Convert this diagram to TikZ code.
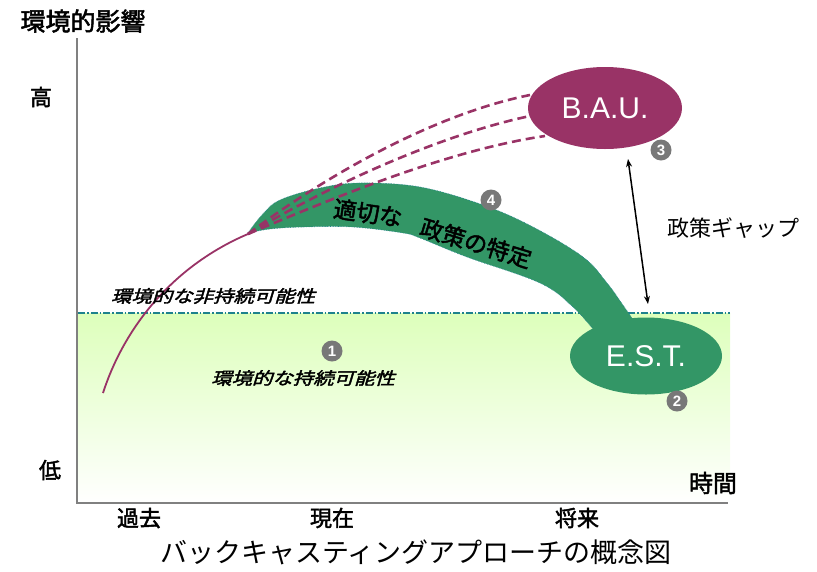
\documentclass[tikz,border=0pt]{standalone}
\usepackage{fontspec}
\usepackage{graphicx}
\setmainfont{Liberation Sans}
\newfontfamily\jp[AutoFakeBold=2,AutoFakeSlant=0.25]{Noto Sans CJK JP}
\usetikzlibrary{shapes.geometric,arrows.meta}
\definecolor{baucol}{RGB}{153,51,102}
\definecolor{estcol}{RGB}{51,150,102}
\definecolor{bgreen}{RGB}{221,255,187}
\definecolor{tealline}{RGB}{30,130,140}
\definecolor{axisgray}{RGB}{128,128,128}
\definecolor{markgray}{RGB}{120,120,120}
\begin{document}
\begin{tikzpicture}[x=1pt,y=-1pt,
  axislabel/.style={inner sep=0, font=\jp\bfseries\fontsize{22}{22}\selectfont},
  zonelabel/.style={inner sep=0, font=\jp\bfseries\itshape\fontsize{17}{17}\selectfont},
  marker/.style={circle, fill=markgray, text=white, inner sep=0, minimum size=21,
    font=\bfseries\fontsize{15}{15}\selectfont},
  scen/.style={ellipse, inner sep=0, text=white, font=\fontsize{30}{30}\selectfont},
  bandtext/.style={inner sep=0, font=\jp\bfseries\fontsize{23}{23}\selectfont},
  baudash/.style={draw=baucol, line width=2.6pt, dash pattern=on 9pt off 5pt},
  axisline/.style={draw=axisgray, line width=1.2pt}]
\useasboundingbox (0,0) rectangle (817,571);
% sustainable zone
\shade[top color=bgreen, middle color=bgreen!55!white, bottom color=white] (78,313) rectangle (730,503);
\draw[tealline, line width=1.3pt, dash pattern=on 7pt off 2pt on 1.5pt off 2pt] (78,313) -- (730,313);
% axes
\draw[axisline] (77,38) -- (77,503) -- (728,503);
% policy band
\fill[estcol, draw=tealline, line width=0.6pt, densely dotted]
  plot[smooth, tension=0.6] coordinates {(248,233) (262,215) (280,200) (320,188) (360,183) (420,187) (483,205) (533,227) (583,257) (607,283) (625,308) (640,330)}
  -- plot[smooth, tension=0.6] coordinates {(598,335) (573,307) (540,283) (467,257) (420,238) (403,233) (353,227) (303,227) (270,229) (248,233)} -- cycle;
% scenario ellipses
\node[scen, fill=baucol, minimum width=154, minimum height=82] (bau) at (605,108) {B.A.U.};
\node[scen, fill=estcol, minimum width=152, minimum height=77] (est) at (646,356) {E.S.T.};
% trajectories
\coordinate (past) at (103,393);
\coordinate (split) at (248,234);
\coordinate (bauA) at (530,95);
\coordinate (bauB) at (530,116);
\coordinate (bauC) at (545,136);
\draw[baucol, line width=1.8pt] (past) .. controls (125,325) and (175,265) .. (split);
\draw[baudash] (split) .. controls (320,180) and (430,115) .. (bauA);
\draw[baudash] (split) .. controls (330,185) and (440,135) .. (bauB);
\draw[baudash] (split) .. controls (340,195) and (450,150) .. (bauC);
% policy gap arrow
\coordinate (gapTop) at (628,159);
\coordinate (gapBot) at (648,304);
\draw[line width=1.5pt, {Stealth[length=8pt,width=6pt]}-{Stealth[length=8pt,width=6pt]}] (gapTop) -- (gapBot);
\node[inner sep=0, font=\jp\fontsize{22}{22}\selectfont] (gaplabel) at (733,228) {政策ギャップ};
% band text
\node[bandtext, rotate=-8] (bt1) at (368,213) {適切な};
\node[bandtext, rotate=-17] (bt2) at (476,243) {政策の特定};
% zone labels
\node[zonelabel] (unsust) at (213,296) {\scalebox{1.2}[1]{環境的な非持続可能性}};
\node[zonelabel] (sust) at (303,378) {\scalebox{1.2}[1]{環境的な持続可能性}};
% markers
\node[marker] (m1) at (332,351) {1};
\node[marker] (m2) at (677,401) {2};
\node[marker] (m3) at (661,150) {3};
\node[marker] (m4) at (491,200) {4};
% axis labels
\node[inner sep=0, font=\jp\bfseries\fontsize{25}{25}\selectfont] (ytitle) at (83,21) {環境的影響};
\node[axislabel] (high) at (41,97) {高};
\node[axislabel] (low) at (50,470) {低};
\node[axislabel, font=\jp\bfseries\fontsize{24}{24}\selectfont] (xtitle) at (713,483) {時間};
\node[axislabel] (tpast) at (139,518) {過去};
\node[axislabel] (tnow) at (332,518) {現在};
\node[axislabel] (tfut) at (577,518) {将来};
\node[inner sep=0, font=\jp\fontsize{27}{27}\selectfont] (caption) at (416,552) {バックキャスティングアプローチの概念図};
\end{tikzpicture}
\end{document}
